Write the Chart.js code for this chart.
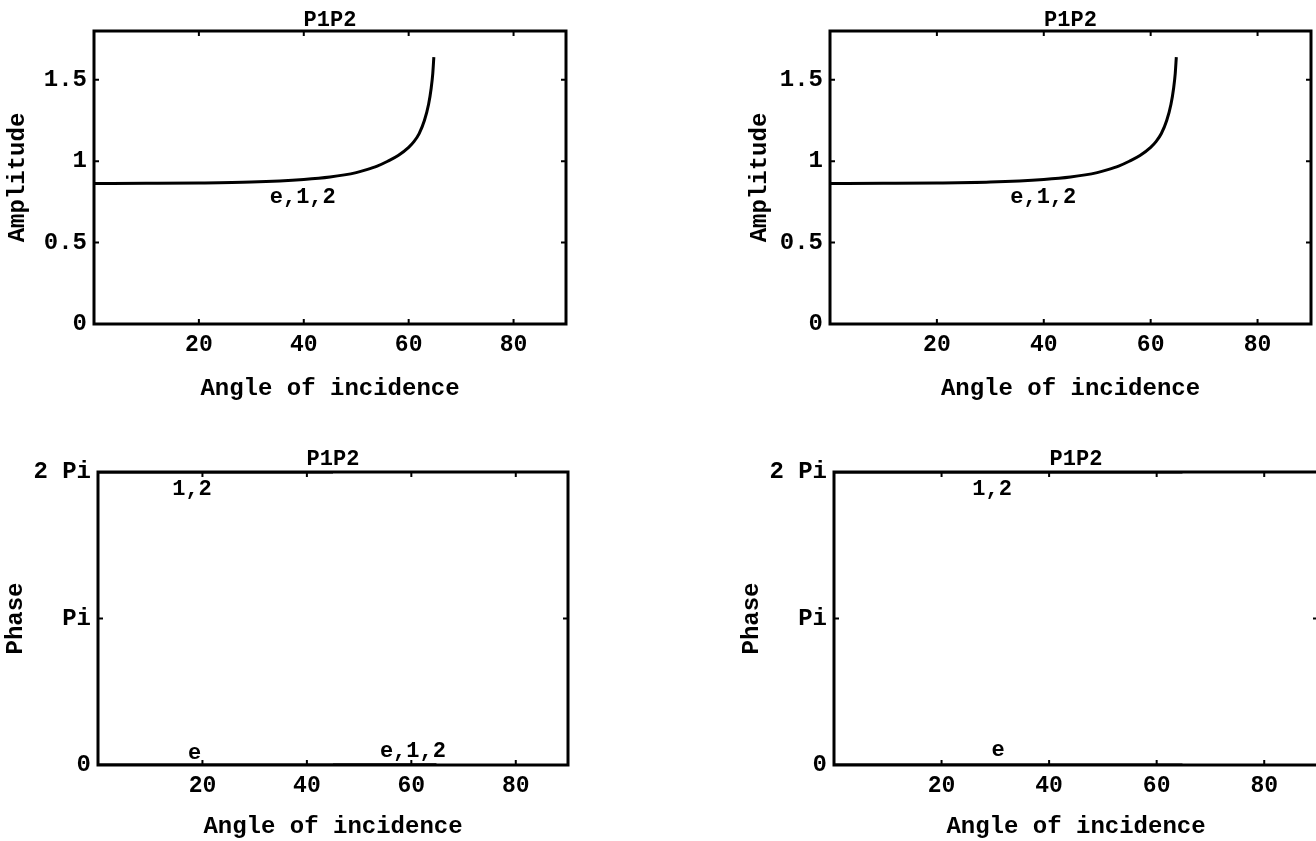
<!DOCTYPE html>
<html>
<head>
<meta charset="utf-8">
<script src="https://cdn.jsdelivr.net/npm/chart.js@4.4.0/dist/chart.umd.min.js"></script>
<style>
  html, body { margin: 0; padding: 0; background: #fff; }
  body { width: 1316px; height: 841px; position: relative; overflow: hidden; }
  .panel { position: absolute; }
</style>
</head>
<body>
<div class="panel" style="left:0px;top:0px;width:600px;height:410px"><canvas id="ampLeft"></canvas></div>
<div class="panel" style="left:740px;top:0px;width:576px;height:410px"><canvas id="ampRight"></canvas></div>
<div class="panel" style="left:0px;top:440px;width:600px;height:401px"><canvas id="phaseLeft"></canvas></div>
<div class="panel" style="left:736px;top:440px;width:582px;height:401px"><canvas id="phaseRight"></canvas></div>
<script>
const PI = Math.PI;

// amplitude vs angle (both top panels show the same curve)
const ampAngles = [0, 10, 20, 30, 40, 45, 50, 52, 54, 56, 58, 60, 61, 62, 63, 63.8, 64.3, 64.6, 64.8];
const ampLeftValues = [0.863, 0.864, 0.866, 0.872, 0.888, 0.903, 0.93, 0.948, 0.97, 1.0, 1.035, 1.085, 1.12, 1.17, 1.25, 1.35, 1.45, 1.54, 1.64];
const ampRightValues = [0.863, 0.864, 0.866, 0.872, 0.888, 0.903, 0.93, 0.948, 0.97, 1.0, 1.035, 1.085, 1.12, 1.17, 1.25, 1.35, 1.45, 1.54, 1.64];

// phase vs angle
const phaseLeftAngles = [0, 45, 45, 45, 64.8];
const phaseLeftE = [0, 0, 0, 0, 0];
const phaseLeft12 = [2 * PI, 2 * PI, null, 0, 0];
const phaseRightAngles = [0, 64.8];
const phaseRightE = [0, 0];
const phaseRight12 = [2 * PI, 2 * PI];

// ticks
const angleTicks = [20, 40, 60, 80];
const ampTicks = [0, 0.5, 1, 1.5];
const ampTickLabels = ['0', '0.5', '1', '1.5'];
const phaseTicks = [0, PI, 2 * PI];
const phaseTickLabels = ['0', 'Pi', '2 Pi'];

// curve labels
const ampLeftNotes = [{ text: 'e,1,2', x: 39.8, y: 0.78 }];
const ampRightNotes = [{ text: 'e,1,2', x: 39.9, y: 0.78 }];
const phaseLeftNotes = [{ text: '1,2', x: 18, y: 5.9 }, { text: 'e', x: 18.5, y: 0.24 }, { text: 'e,1,2', x: 60.3, y: 0.28 }];
const phaseRightNotes = [{ text: '1,2', x: 29.4, y: 5.9 }, { text: 'e', x: 30.5, y: 0.32 }];

const MONO = "'Liberation Mono', 'DejaVu Sans Mono', monospace";

// frame, inner ticks, plot title and curve labels
const framePlugin = {
    id: 'frame',
    afterDatasetsDraw(chart, args, opts) {
        const ctx = chart.ctx;
        const a = chart.chartArea;
        const xs = chart.scales.x, ys = chart.scales.y;
        ctx.save();
        ctx.strokeStyle = '#000';
        ctx.lineWidth = 3;
        ctx.strokeRect(a.left, a.top, a.right - a.left, a.bottom - a.top);
        ctx.lineWidth = 2;
        ctx.beginPath();
        xs.ticks.forEach(t => {
            const px = xs.getPixelForValue(t.value);
            ctx.moveTo(px, a.bottom); ctx.lineTo(px, a.bottom - 5);
            ctx.moveTo(px, a.top); ctx.lineTo(px, a.top + 5);
        });
        ys.ticks.forEach(t => {
            const py = ys.getPixelForValue(t.value);
            ctx.moveTo(a.left, py); ctx.lineTo(a.left + 5, py);
            ctx.moveTo(a.right, py); ctx.lineTo(a.right - 5, py);
        });
        ctx.stroke();

        ctx.fillStyle = '#000';
        ctx.textAlign = 'center';
        ctx.textBaseline = 'alphabetic';
        ctx.font = 'bold 22px ' + MONO;
        ctx.fillText('P1P2', (a.left + a.right) / 2, a.top - opts.titleGap);

        ctx.textBaseline = 'middle';
        ctx.font = 'bold 22px ' + MONO;
        opts.notes.forEach(n => {
            ctx.fillText(n.text, xs.getPixelForValue(n.x), ys.getPixelForValue(n.y));
        });
        ctx.restore();
    }
};

function makePanel(id, cfg) {
    const ctx = document.getElementById(id).getContext('2d');
    return new Chart(ctx, {
        type: 'line',
        data: {
            labels: cfg.angles,
            datasets: cfg.series.map(s => ({
                label: s.label,
                data: s.values,
                borderColor: '#000',
                borderWidth: 3,
                pointRadius: 0,
                fill: false,
                spanGaps: false,
                cubicInterpolationMode: 'monotone'
            }))
        },
        options: {
            responsive: true,
            maintainAspectRatio: false,
            animation: false,
            layout: { padding: { top: cfg.padTop, right: cfg.padRight, left: 0, bottom: 0 } },
            plugins: {
                legend: { display: false },
                tooltip: { enabled: false },
                frame: { notes: cfg.notes, titleGap: cfg.titleGap }
            },
            scales: {
                x: {
                    type: 'linear',
                    min: 0,
                    max: 90,
                    afterBuildTicks: s => { s.ticks = angleTicks.map(v => ({ value: v })); },
                    afterFit: s => { s.height = cfg.xHeight; },
                    grid: { display: false, drawTicks: false },
                    border: { display: false },
                    ticks: {
                        padding: 7,
                        color: '#000',
                        maxRotation: 0,
                        autoSkip: false,
                        font: { family: MONO, size: 23, weight: 'bold' },
                        callback: v => String(v)
                    },
                    title: {
                        display: true,
                        text: 'Angle of incidence',
                        color: '#000',
                        font: { family: MONO, size: 24, weight: 'bold', lineHeight: 1 },
                        padding: { top: 0, bottom: cfg.xTitlePad }
                    }
                },
                y: {
                    type: 'linear',
                    min: cfg.yMin,
                    max: cfg.yMax,
                    afterBuildTicks: s => { s.ticks = cfg.yTicks.map(v => ({ value: v })); },
                    afterFit: s => { s.width = cfg.yWidth; },
                    grid: { display: false, drawTicks: false },
                    border: { display: false },
                    ticks: {
                        padding: 7,
                        color: '#000',
                        autoSkip: false,
                        font: { family: MONO, size: 24, weight: 'bold' },
                        callback: (v, i) => cfg.yTickLabels[i]
                    },
                    title: {
                        display: true,
                        text: cfg.yTitle,
                        color: '#000',
                        font: { family: MONO, size: 24, weight: 'bold', lineHeight: 1 },
                        padding: { top: cfg.yTitlePad, bottom: 0 }
                    }
                }
            }
        },
        plugins: [framePlugin]
    });
}

makePanel('ampLeft', {
    angles: ampAngles,
    series: [{ label: 'e,1,2', values: ampLeftValues }],
    notes: ampLeftNotes,
    yMin: 0, yMax: 1.8, yTicks: ampTicks, yTickLabels: ampTickLabels, yTitle: 'Amplitude',
    padTop: 31, padRight: 34, xHeight: 86, yWidth: 94, yTitlePad: 6, xTitlePad: 9, titleGap: 5
});

makePanel('ampRight', {
    angles: ampAngles,
    series: [{ label: 'e,1,2', values: ampRightValues }],
    notes: ampRightNotes,
    yMin: 0, yMax: 1.8, yTicks: ampTicks, yTickLabels: ampTickLabels, yTitle: 'Amplitude',
    padTop: 31, padRight: 5, xHeight: 86, yWidth: 90, yTitlePad: 8, xTitlePad: 9, titleGap: 5
});

makePanel('phaseLeft', {
    angles: phaseLeftAngles,
    series: [{ label: 'e', values: phaseLeftE }, { label: '1,2', values: phaseLeft12 }],
    notes: phaseLeftNotes,
    yMin: 0, yMax: 2 * PI, yTicks: phaseTicks, yTickLabels: phaseTickLabels, yTitle: 'Phase',
    padTop: 32, padRight: 32, xHeight: 76, yWidth: 98, yTitlePad: 4, xTitlePad: 2, titleGap: 7
});

makePanel('phaseRight', {
    angles: phaseRightAngles,
    series: [{ label: 'e', values: phaseRightE }, { label: '1,2', values: phaseRight12 }],
    notes: phaseRightNotes,
    yMin: 0, yMax: 2 * PI, yTicks: phaseTicks, yTickLabels: phaseTickLabels, yTitle: 'Phase',
    padTop: 32, padRight: 0, xHeight: 76, yWidth: 98, yTitlePad: 4, xTitlePad: 2, titleGap: 7
});
</script>
</body>
</html>
